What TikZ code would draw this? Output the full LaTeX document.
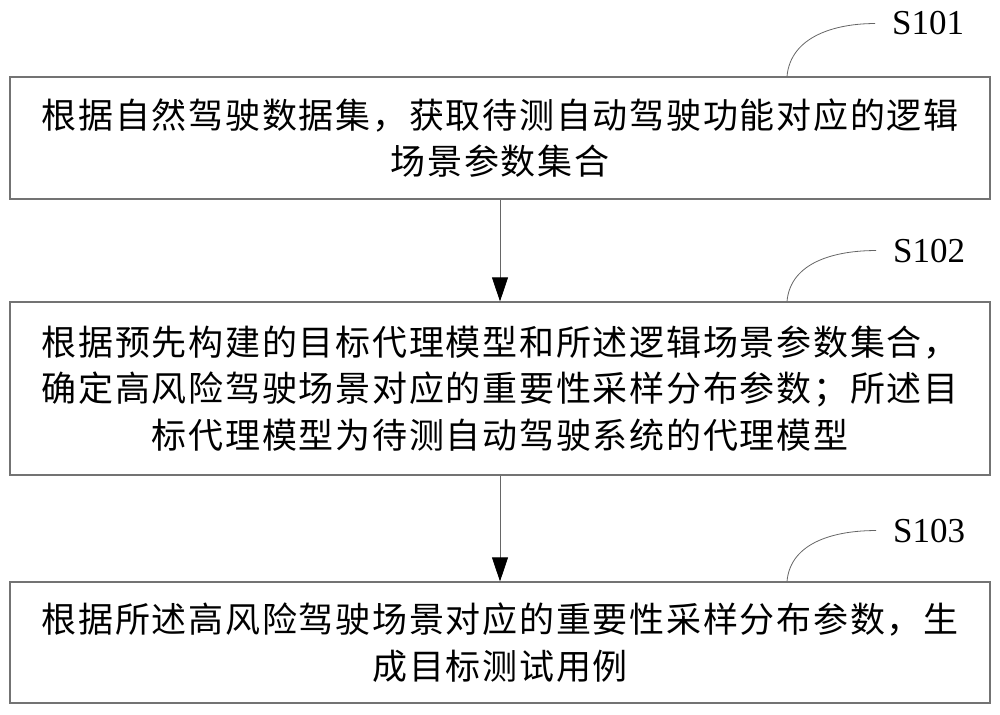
\documentclass[tikz,border=0pt]{standalone}
\usepackage{fontspec}
\newfontfamily\cjkfont{Noto Sans CJK SC}[LetterSpace=5.0]
\newfontfamily\labelfont{Liberation Serif}
\usetikzlibrary{arrows.meta,positioning,calc}
\tikzset{
  stepbox/.style={draw=black!55,line width=1.2pt,minimum width=980pt,
    inner sep=0pt,align=center,font=\cjkfont\fontsize{35}{46.5}\selectfont},
  steplabel/.style={inner sep=0pt,anchor=base west,
    font=\labelfont\fontsize{35}{40}\selectfont},
  leader/.style={draw=black!60,line width=0.8pt},
  arrow/.style={draw=black!60,line width=0.8pt,
    -{Triangle[length=24pt,width=16pt,black]}}
}

\begin{document}
\begin{tikzpicture}[x=1pt,y=-1pt]
  \useasboundingbox (0,0) rectangle (1000,714);

  % Steps
  \node[stepbox,minimum height=122pt] (step1) at (500,138)
    {根据自然驾驶数据集，获取待测自动驾驶功能对应的逻辑\\场景参数集合};
  \node[stepbox,minimum height=173pt] (step2) at (500,388.5)
    {根据预先构建的目标代理模型和所述逻辑场景参数集合，\\
     确定高风险驾驶场景对应的重要性采样分布参数；所述目\\
     标代理模型为待测自动驾驶系统的代理模型};
  \node[stepbox,minimum height=121pt] (step3) at (500,642.5)
    {根据所述高风险驾驶场景对应的重要性采样分布参数，生\\成目标测试用例};

  % Labels
  \node[steplabel] (lab1) at (892,35) {S101};
  \node[steplabel] (lab2) at (893,262) {S102};
  \node[steplabel] (lab3) at (893,542) {S103};

  % Leaders
  \coordinate (top1) at (787,0 |- step1.north);
  \coordinate (top2) at (787,0 |- step2.north);
  \coordinate (top3) at (787,0 |- step3.north);
  \draw[leader] (top1) to[out=85,in=180] ([xshift=-17pt]lab1.west);
  \draw[leader] (top2) to[out=85,in=180] ([xshift=-17pt]lab2.west);
  \draw[leader] (top3) to[out=85,in=180] ([xshift=-17pt]lab3.west);

  % Arrows
  \draw[arrow] (step1) -- (step2);
  \draw[arrow] (step2) -- (step3);
\end{tikzpicture}
\end{document}
